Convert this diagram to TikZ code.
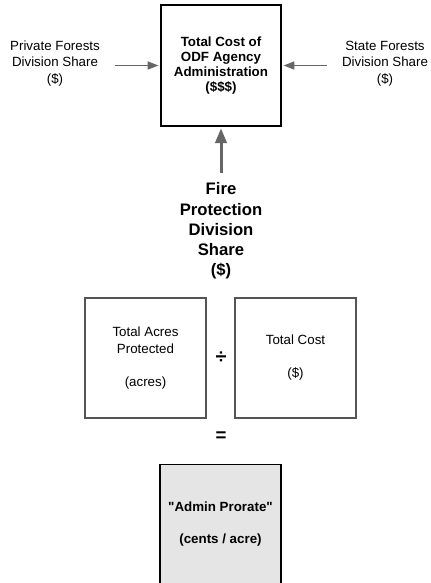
\documentclass[tikz,border=0pt]{standalone}
\usepackage{fontspec}
\setmainfont{Liberation Sans}
\newfontfamily\plainquotes{Liberation Sans}[Ligatures=TeXOff]
\usetikzlibrary{arrows.meta}

\definecolor{arrowgray}{RGB}{102,102,102}
\definecolor{boxgray}{RGB}{85,85,85}
\definecolor{prorategray}{RGB}{229,229,229}

\tikzset{every picture/.style={line width=0.75pt}}
\tikzset{
share label/.style={align=center, inner sep=0.75pt, font=\fontsize{10}{12.4}\selectfont},
agency box/.style={draw, line width=1.5, minimum width=90pt, minimum height=90.75pt, align=center, inner sep=0pt, font=\fontsize{10}{11.25}\selectfont\bfseries},
fire label/.style={align=center, inner sep=0.75pt, font=\fontsize{12.5}{15.2}\selectfont\bfseries},
ratio box/.style={draw=boxgray, line width=1, minimum width=90.75pt, minimum height=90pt, align=center, inner sep=0pt, font=\fontsize{10}{12.4}\selectfont},
prorate box/.style={draw, fill=prorategray, line width=1.2, minimum width=90.75pt, minimum height=90pt, align=center, inner sep=0pt, font=\plainquotes\fontsize{10}{12}\selectfont\bfseries},
side arrow/.style={draw=arrowgray, line width=1, -{Triangle[length=8pt,width=6pt]}, fill=arrowgray},
up arrow/.style={draw=arrowgray, line width=2.25, -{Triangle[length=11pt,width=8.5pt]}, fill=arrowgray}}

\begin{document}
\begin{tikzpicture}[x=0.75pt,y=0.75pt,yscale=-1,xscale=1]
\useasboundingbox (0,0) rectangle (430,583);

%Shape: Rectangle [agency]
\node [agency box] (odf) at (221,65.5) {Total Cost of\\ODF Agency\\Administration\\(\$\$\$)};

% Text Node
\node [share label] (pfd) at (55,63.5) {Private Forests\\Division Share\\(\$)};
% Text Node
\node [share label] (sfd) at (385,63.5) {State Forests\\Division Share\\(\$)};
% Text Node
\node [fire label] (fpd) at (221,231) {Fire\\Protection\\Division\\Share\\(\$)};

%Shape: Rectangle [ratio]
\node [ratio box] (acres) at (145.5,358) {Total Acres\\Protected\\[12.4pt](acres)};
\node [ratio box] (cost) at (295.5,358) {Total Cost\\[12.4pt](\$)};
% Text Node
\node [inner sep=0.75pt, font=\fontsize{15}{17}\selectfont\bfseries] (div) at (221,357.5) {÷};
% Text Node
\node [inner sep=0.75pt, font=\fontsize{14}{16}\selectfont\bfseries] (eq) at (221,437) {=};

%Shape: Rectangle [prorate]
\node [prorate box] (prorate) at (220.5,524.5) {"Admin Prorate"\\[12pt](cents / acre)};

%Straight Lines
\draw [side arrow, shorten <=10.5pt, shorten >=1.2pt] (pfd.east |- odf.west) -- (odf.west);
\draw [side arrow, shorten <=10.5pt, shorten >=1.2pt] (sfd.west |- odf.east) -- (odf.east);
\draw [up arrow, shorten <=6pt, shorten >=1pt] (fpd.north) -- (odf.south);

\end{tikzpicture}
\end{document}
